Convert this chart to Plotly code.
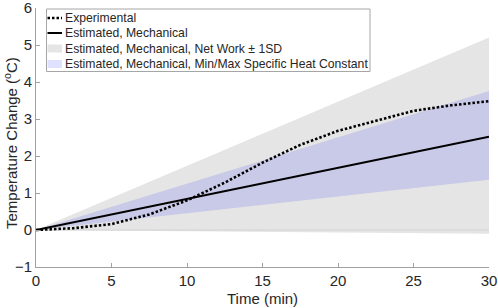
import plotly.graph_objects as go

# ---- data ----
time_band = [0, 30]
sd_upper = [0, 5.2]
sd_lower = [0, -0.1]
heat_upper = [0, 3.76]
heat_lower = [0, 1.36]
est_mech = [0, 2.52]

time_exp = [0, 2.5, 5, 7.5, 10, 12.5, 15, 17.5, 20, 22.5, 25, 27.5, 30]
experimental = [0, 0.05, 0.16, 0.42, 0.8, 1.28, 1.82, 2.3, 2.68, 2.96, 3.22, 3.37, 3.48]

x_ticks = [0, 5, 10, 15, 20, 25, 30]
y_ticks = [-1, 0, 1, 2, 3, 4, 5, 6]

legend_labels = ["Experimental", "Estimated, Mechanical",
                 "Estimated, Mechanical, Net Work \u00b1 1SD",
                 "Estimated, Mechanical, Min/Max Specific Heat Constant"]
x_title = "Time (min)"
y_title = "Temperature Change (<sup>o</sup>C)"

GRAY = "#e5e5e5"
BLUE = "rgba(0,0,255,0.12)"
FONT = "Liberation Sans, Arial, sans-serif"
TXT = "#262626"

fig = go.Figure()
fig.add_trace(go.Scatter(x=time_band + time_band[::-1], y=sd_upper + sd_lower[::-1],
                         fill="toself", fillcolor=GRAY, line=dict(width=0),
                         mode="lines", hoverinfo="skip", showlegend=False))
fig.add_trace(go.Scatter(x=time_band, y=[0, 0], mode="lines",
                         line=dict(color="#d2d2d2", width=1), showlegend=False))
fig.add_trace(go.Scatter(x=time_band + time_band[::-1], y=heat_upper + heat_lower[::-1],
                         fill="toself", fillcolor=BLUE, line=dict(width=0),
                         mode="lines", hoverinfo="skip", showlegend=False))
fig.add_trace(go.Scatter(x=time_band, y=est_mech, mode="lines",
                         line=dict(color="black", width=2), showlegend=False))
fig.add_trace(go.Scatter(x=time_exp, y=experimental, mode="lines",
                         line=dict(color="black", width=2.6, dash="2.5px,2px"), showlegend=False))

# ---- manual legend (pixel -> paper) ----
L, R, T, B = 36, 489, 8, 267
W, H = R - L, B - T
def px(x): return (x - L) / W
def py(y): return (B - y) / H

shapes = [dict(type="rect", xref="paper", yref="paper",
               x0=px(46.5), x1=px(370), y0=py(9), y1=py(71.5),
               line=dict(color="#a6a6a6", width=1), fillcolor="white", layer="above")]
rows = [18, 33, 48.5, 64]
shapes.append(dict(type="line", xref="paper", yref="paper", x0=px(47.5), x1=px(62),
                   y0=py(rows[0]), y1=py(rows[0]), line=dict(color="black", width=2.5, dash="2.5px,2px"), layer="above"))
shapes.append(dict(type="line", xref="paper", yref="paper", x0=px(47.5), x1=px(62),
                   y0=py(rows[1]), y1=py(rows[1]), line=dict(color="black", width=2), layer="above"))
shapes.append(dict(type="rect", xref="paper", yref="paper", x0=px(47.5), x1=px(62),
                   y0=py(rows[2] - 4), y1=py(rows[2] + 4), line=dict(width=0), fillcolor=GRAY, layer="above"))
shapes.append(dict(type="rect", xref="paper", yref="paper", x0=px(47.5), x1=px(62),
                   y0=py(rows[3] - 4), y1=py(rows[3] + 4), line=dict(width=0), fillcolor=BLUE, layer="above"))
annotations = []
for lab, r in zip(legend_labels, rows):
    annotations.append(dict(text=lab, xref="paper", yref="paper", x=px(62.5), y=py(r),
                            xanchor="left", yanchor="middle", showarrow=False,
                            font=dict(family=FONT, size=12.2, color=TXT)))
annotations.append(dict(text=x_title, xref="paper", yref="paper", x=px(262), y=py(298),
                        xanchor="center", yanchor="middle", showarrow=False,
                        font=dict(family=FONT, size=15, color=TXT)))
annotations.append(dict(text=y_title, xref="paper", yref="paper", x=px(10), y=py(143),
                        xanchor="center", yanchor="middle", showarrow=False, textangle=-90,
                        font=dict(family=FONT, size=15, color=TXT)))

axis_common = dict(ticks="inside", ticklen=4, tickcolor="#a0a0a0", showline=True,
                   linecolor="#a0a0a0", linewidth=1, showgrid=False, zeroline=False,
                   automargin=False, ticklabeloverflow="allow",
                   tickfont=dict(family=FONT, size=15, color=TXT))

fig.update_layout(
    width=498, height=308,
    margin=dict(l=L, r=498 - R, t=T, b=308 - B),
    paper_bgcolor="white", plot_bgcolor="white",
    font=dict(family=FONT, size=15, color=TXT),
    shapes=shapes, annotations=annotations,
    xaxis=dict(range=[0, 30], tickvals=x_ticks, ticklabelstandoff=0, **axis_common),
    yaxis=dict(range=[-1, 6], tickvals=y_ticks, ticklabelstandoff=0, **axis_common),
)
fig.write_html("out.html", config={"displayModeBar": False},
               post_script="document.body.style.margin='0';document.body.style.overflow='hidden';")
